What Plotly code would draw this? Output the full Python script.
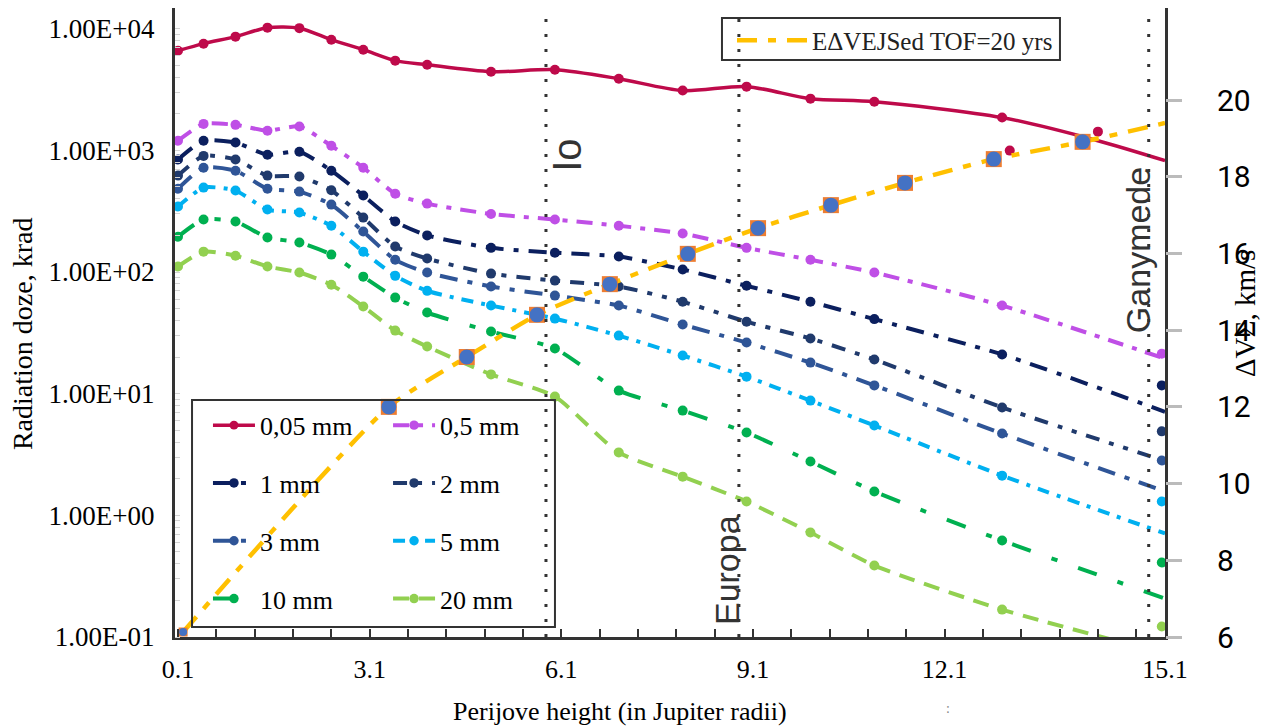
import plotly.graph_objects as go

# ---------------- data ----------------
# perijove heights (Jupiter radii) of the dose points
perijove = [0.1, 0.5, 1, 1.5, 2, 2.5, 3, 3.5, 4, 5, 6, 7, 8, 9, 10, 11, 13, 15.5]
trend_end_x = 15.55

# radiation dose, krad
dose_005_x = [0.1, 0.5, 1, 1.5, 2, 2.5, 3, 3.5, 4, 5, 6, 7, 8, 9, 10, 11, 13, 14.5, 15.55]
dose_005 = [6590, 7530, 8600, 10200, 10100, 8120, 6720, 5460, 5060, 4430, 4600, 3880,
            3100, 3340, 2660, 2510, 1860, 1200, 823]
dose_005_extra_x = [13.12, 14.5]
dose_005_extra = [995, 1425]

dose_05 = [1200, 1650, 1620, 1450, 1570, 1090, 720, 440, 365, 300, 270, 240, 207, 158, 126, 99, 53, 21.3]
dose_1 = [840, 1200, 1160, 920, 975, 680, 425, 260, 200, 158, 144, 134, 105, 77, 57, 41, 21, 11.7]
dose_2 = [620, 900, 840, 620, 610, 470, 280, 162, 129, 97, 85, 76, 57, 39, 28.4, 19.1, 7.7, 4.9]
dose_3 = [484, 720, 680, 484, 458, 358, 215, 126, 99, 76, 64, 53, 37, 26.3, 18.0, 11.7, 4.7, 2.82]
dose_5 = [345, 494, 467, 326, 308, 240, 147, 93, 70, 53, 41.4, 30.0, 20.6, 13.8, 8.77, 5.47, 2.12, 1.30]
dose_10 = [195, 270, 260, 192, 175, 139, 91.6, 61.6, 46.4, 32.4, 23.5, 10.6, 7.26, 4.79, 2.77, 1.57, 0.621, 0.409]
dose_20 = [111, 147, 136, 111, 99, 78.7, 52, 33, 24.4, 14.4, 9.46, 3.28, 2.08, 1.30, 0.723, 0.387, 0.168, 0.122]
# value of each trend line at the right edge
trend_end = [19.4, 7.1, 2.8, 1.57, 0.71, 0.207, 0.073]

series_names = ["0,5 mm", "1 mm", "2 mm", "3 mm", "5 mm", "10 mm", "20 mm"]

# total delta-V (right axis, km/s)
dv_x = [0.18, 3.40, 4.62, 5.72, 6.86, 8.08, 9.18, 10.32, 11.48, 12.87, 14.26]
dv = [6.13, 12.0, 13.30, 14.40, 15.20, 15.99, 16.66, 17.26, 17.84, 18.46, 18.91]
dv_end = 19.40

# moons
moon_names = ["Io", "Europa", "Ganymede"]
moon_x = [5.86, 8.88, 15.295]

x_tickvals = [0.1, 3.1, 6.1, 9.1, 12.1, 15.55]
x_ticktext = ["0.1", "3.1", "6.1", "9.1", "12.1", "15.1"]
y_tickvals = [0.1, 1, 10, 100, 1000, 10000]
y_ticktext = ["1.00E-01", "1.00E+00", "1.00E+01", "1.00E+02", "1.00E+03", "1.00E+04"]
y2_tickvals = [6, 8, 10, 12, 14, 16, 18, 20]

# ---------------- styles ----------------
colors = ["#BF4FE6", "#0B1F5E", "#203A6C", "#2F5597", "#00B0F0", "#00B050", "#92D050"]
dashes = ["16px,9px,5px,9px", "18px,10px,5px,10px", "14px,10px,5px,10px,5px,10px",
          "18px,10px,5px,10px", "12px,8px,4px,8px", "20px,22px,6px,22px", "16px,10px"]
legends = ["legend2", "legend", "legend2", "legend", "legend2", "legend", "legend2"]
SERIF = "Liberation Serif, Times New Roman, serif"
SANS = "Liberation Sans, Arial, sans-serif"
NOLINE = dict(width=0)

fig = go.Figure()

# 0,05 mm
n005 = len(dose_005_x)
fig.add_trace(go.Scatter(
    x=dose_005_x, y=dose_005, name="0,05 mm", mode="lines+markers",
    line=dict(color="#BE0A4A", width=3.5, shape="spline", smoothing=0.8),
    marker=dict(color="#BE0A4A", size=[10] * (n005 - 2) + [0, 0], opacity=1, line=NOLINE),
    legend="legend", legendgroup="0,05 mm"))
fig.add_trace(go.Scatter(
    x=dose_005_extra_x, y=dose_005_extra, mode="markers", showlegend=False,
    marker=dict(color="#BE0A4A", size=10), legendgroup="0,05 mm"))

for name, vals, end, col, dsh, lg in zip(series_names,
                                         [dose_05, dose_1, dose_2, dose_3, dose_5, dose_10, dose_20],
                                         trend_end, colors, dashes, legends):
    lx = perijove[:-1] + [trend_end_x]
    ly = vals[:-1] + [end]
    fig.add_trace(go.Scatter(
        x=lx, y=ly, name=name, mode="lines+markers",
        line=dict(color=col, width=4, dash=dsh, shape="spline", smoothing=0.6),
        marker=dict(color=col, size=[10] * (len(lx) - 1) + [0], opacity=1, line=NOLINE),
        legend=lg, legendgroup=name))
    fig.add_trace(go.Scatter(
        x=perijove[-1:], y=vals[-1:], mode="markers", showlegend=False,
        marker=dict(color=col, size=10), legendgroup=name))

# delta-V
dv_sq = [9] + [16] * (len(dv_x) - 1)
dv_ci = [8] + [15] * (len(dv_x) - 1)
fig.add_trace(go.Scatter(
    x=dv_x + [trend_end_x], y=dv + [dv_end], yaxis="y2", name="EΔVEJSed TOF=20 yrs",
    mode="lines", line=dict(color="#FFC000", width=4.5, dash="20px,11px,8px,11px",
                            shape="spline", smoothing=0.6),
    legend="legend3"))
fig.add_trace(go.Scatter(
    x=dv_x, y=dv, yaxis="y2", mode="markers", showlegend=False,
    marker=dict(symbol="square", color="#ED7D31", size=dv_sq, opacity=1, line=NOLINE)))
fig.add_trace(go.Scatter(
    x=dv_x, y=dv, yaxis="y2", mode="markers", showlegend=False,
    marker=dict(symbol="circle", color="#4472C4", size=dv_ci, opacity=1, line=NOLINE)))

# moon lines
shapes = []
for mx in moon_x:
    shapes.append(dict(type="line", xref="x", yref="paper", x0=mx, x1=mx, y0=0, y1=1,
                       line=dict(color="#333333", width=3, dash="3px,12px")))
# legend boxes
shapes.append(dict(type="rect", xref="paper", yref="paper", x0=0.0172, x1=0.3838,
                   y0=0.0159, y1=0.3768, line=dict(color="#333333", width=2)))
shapes.append(dict(type="rect", xref="paper", yref="paper", x0=0.5525, x1=0.8939,
                   y0=0.9173, y1=0.984, line=dict(color="#333333", width=2),
                   fillcolor="white", layer="below"))


def label(text, x, y, size, family, color="black", angle=0):
    return dict(text=text, x=x, y=y, xref="paper", yref="paper", textangle=angle,
                xanchor="center", yanchor="middle", showarrow=False,
                font=dict(family=family, size=size, color=color))


annotations = [
    label("Io", 0.396, 0.765, 40, SANS, "#333", -90),
    label("Europa", 0.5576, 0.1065, 34, SANS, "#333", -90),
    label("Ganymede", 0.9727, 0.615, 34, SANS, "#333", -90),
    label("Radiation doze, krad", -0.1545, 0.4817, 28, SERIF, "black", -90),
    label("ΔVΣ, km/s", 1.0808, 0.515, 29, SERIF, "black", -90),
    label("Perijove height (in Jupiter radii)", 0.449, -0.119, 26, SERIF),
    label(":", 0.781, -0.113, 14, SERIF, "#888"),
]

leg_common = dict(bgcolor="rgba(0,0,0,0)", borderwidth=0, tracegroupgap=21, itemwidth=42,
                  font=dict(family=SERIF, size=26, color="black"),
                  xanchor="left", yanchor="top")

fig.update_layout(
    width=1273, height=727,
    margin=dict(l=167, r=116, t=0, b=98, autoexpand=False),
    paper_bgcolor="white", plot_bgcolor="white",
    showlegend=True,
    shapes=shapes, annotations=annotations,
    legend=dict(x=0.0333, y=0.374, **leg_common),
    legend2=dict(x=0.2152, y=0.374, **leg_common),
    legend3=dict(x=0.5626, y=0.985, xanchor="left", yanchor="top", bgcolor="rgba(0,0,0,0)",
                 borderwidth=0, itemwidth=70, font=dict(family=SERIF, size=25, color="#222")),
    xaxis=dict(range=[0.053, 15.55], tickmode="array", tickvals=x_tickvals, ticktext=x_ticktext,
               ticks="inside", ticklen=8, tickwidth=2, tickcolor="#333",
               minor=dict(tickmode="linear", tick0=0.1, dtick=0.6, ticks="inside", ticklen=8,
                          tickwidth=2, tickcolor="#333"),
               showline=True, linewidth=3, linecolor="#333", mirror=True,
               showgrid=False, zeroline=False, ticklabelstandoff=7,
               tickfont=dict(family=SERIF, size=26, color="black")),
    yaxis=dict(type="log", range=[-1.0, 4.17], tickmode="array", tickvals=y_tickvals,
               ticktext=y_ticktext, ticks="", showline=True, linewidth=3, linecolor="#333",
               mirror=True, showgrid=False, zeroline=False, ticklabelstandoff=12,
               minor=dict(tickmode="linear", dtick="D1", ticks="inside", ticklen=5,
                          tickwidth=1, tickcolor="#d4d4d4"),
               tickfont=dict(family=SERIF, size=27, color="black")),
    yaxis2=dict(overlaying="y", side="right", range=[6, 22.4], tickmode="array",
                tickvals=y2_tickvals, ticks="outside", ticklen=16, tickwidth=2.5,
                tickcolor="#BBBBBB", showline=False, showgrid=False, zeroline=False,
                ticklabelstandoff=29,
                tickfont=dict(family="Liberation Sans Narrow, Roboto, sans-serif", size=30,
                              color="black")),
)

fig.write_html("out.html")
